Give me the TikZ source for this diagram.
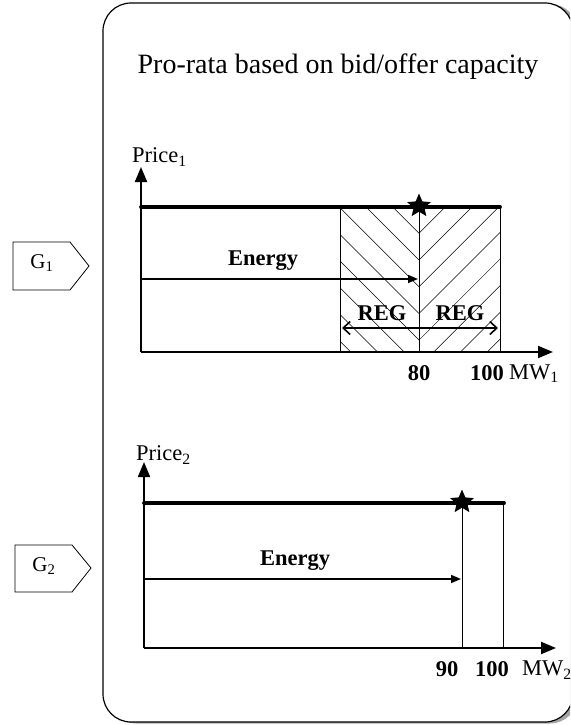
\documentclass[tikz,border=0pt]{standalone}
\usepackage{fontspec}
\setmainfont{Liberation Serif}
\usetikzlibrary{arrows.meta,shapes.geometric}
\begin{document}
\begin{tikzpicture}[x=1pt,y=-1pt,
  axisline/.style={line width=2pt,-{Triangle[length=15pt,width=12pt]}},
  priceline/.style={line width=3.8pt,line cap=round},
  thinline/.style={line width=0.7pt},
  hatchline/.style={line width=0.5pt},
  energyarrow/.style={line width=1.6pt,-{Triangle[length=10pt,width=8pt]}},
  regarrow/.style={line width=1.6pt,{Straight Barb[length=7pt,width=13pt]}-{Straight Barb[length=7pt,width=13pt]}},
  lbl/.style={font=\fontsize{22.5}{26}\selectfont,inner sep=0pt},
  blbl/.style={font=\fontsize{22.5}{26}\selectfont\bfseries,inner sep=0pt},
  glbl/.style={font=\fontsize{21}{25}\selectfont,inner sep=0pt},
  starmark/.style={star,star points=5,star point ratio=2.2,fill=black,minimum size=25pt,inner sep=0pt},
  gbox/.style={line width=0.8pt,fill=white}
]
\useasboundingbox (0,0) rectangle (570,725);
\clip (0,0) rectangle (570,725);
% panel with shadow
\fill[gray!70,rounded corners=28pt] (108,4) rectangle (578,723.5);
\draw[line width=1.2pt,fill=white,rounded corners=28pt] (103,3) rectangle (573,722);
\node[font=\fontsize{28}{33}\selectfont,inner sep=0pt] (title) at (338,67) {Pro-rata based on bid/offer capacity};

% G boxes
\draw[gbox] (13,242) -- (70,242) -- (89,266) -- (70,290) -- (13,290) -- cycle;
\node[glbl] (g1) at (42,263) {G\textsubscript{1}};
\draw[gbox] (15,545) -- (72,545) -- (91,568) -- (72,592) -- (15,592) -- cycle;
\node[glbl] (g2) at (44,566) {G\textsubscript{2}};

% ---------- chart 1 ----------
\coordinate (o1) at (141,352);
\coordinate (y1) at (141,167);
\coordinate (x1) at (553,352);
\coordinate (p1a) at (141,207);
\coordinate (p1b) at (500,207);
% hatching
\begin{scope}
  \clip (340,207) rectangle (419,352);
  \foreach \k in {-1,...,9} {
    \draw[hatchline] (419,{233.3+26.7*\k}) -- ++(-200,-200);
  }
\end{scope}
\begin{scope}
  \clip (419,207) rectangle (500,352);
  \foreach \k in {-1,...,9} {
    \draw[hatchline] (419,{233.3+26.7*\k}) -- ++(200,-200);
  }
\end{scope}
\coordinate (h1t) at (340,207); \coordinate (h1b) at (340,352);
\coordinate (m80t) at (419,207); \coordinate (m80b) at (419,352);
\coordinate (m100t) at (500,207); \coordinate (m100b) at (500,352);
\draw[thinline] (h1t) -- (h1b);
\draw[thinline] (m80t) -- (m80b);
\draw[thinline] (m100t) -- (m100b);
\draw[axisline] (o1) -- (y1);
\draw[axisline] (o1) -- (x1);
\draw[priceline] (p1a) -- (p1b);
\node[starmark] (star1) at (419,206) {};
\coordinate (e1a) at (141,279); \coordinate (e1b) at (418,279);
\draw[energyarrow] (e1a) -- (e1b);
\node[blbl] (en1) at (263,261) {Energy};
\node[blbl] (reg1) at (382,313) {REG};
\node[blbl] (reg2) at (460,313) {REG};
\coordinate (r1a) at (342,328); \coordinate (r1b) at (498,328);
\draw[regarrow] (r1a) -- (r1b);
\node[blbl] (n80) at (419,373) {80};
\node[blbl] (n100a) at (487,373) {100};
\node[lbl,anchor=west] (mw1) at (509,374) {MW\textsubscript{1}};
\node[lbl,anchor=west] (pr1) at (132,157) {Price\textsubscript{1}};

% ---------- chart 2 ----------
\coordinate (o2) at (144,648);
\coordinate (y2) at (144,462);
\coordinate (x2) at (556,648);
\coordinate (p2a) at (144,503);
\coordinate (p2b) at (504,503);
\coordinate (m90t) at (462,503); \coordinate (m90b) at (462,648);
\coordinate (m100t2) at (503,503); \coordinate (m100b2) at (503,648);
\draw[thinline] (m90t) -- (m90b);
\draw[thinline] (m100t2) -- (m100b2);
\draw[axisline] (o2) -- (y2);
\draw[axisline] (o2) -- (x2);
\draw[priceline] (p2a) -- (p2b);
\node[starmark] (star2) at (462,502) {};
\coordinate (e2a) at (144,579); \coordinate (e2b) at (461,579);
\draw[energyarrow] (e2a) -- (e2b);
\node[blbl] (en2) at (295,561) {Energy};
\node[blbl] (n90) at (447,669) {90};
\node[blbl] (n100b) at (492,669) {100};
\node[lbl,anchor=west] (mw2) at (522,670) {MW\textsubscript{2}};
\node[lbl,anchor=west] (pr2) at (136,455) {Price\textsubscript{2}};
\end{tikzpicture}
\end{document}
